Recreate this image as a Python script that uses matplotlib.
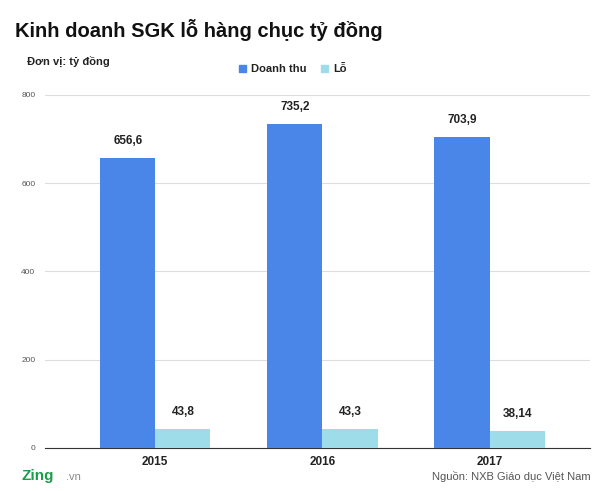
import matplotlib
matplotlib.use("Agg")
import matplotlib.pyplot as plt
import numpy as np

years = ["2015", "2016", "2017"]
revenue = [656.6, 735.2, 703.9]
loss = [43.8, 43.3, 38.14]
rev_labels = ["656,6", "735,2", "703,9"]
loss_labels = ["43,8", "43,3", "38,14"]
yticks = [0, 200, 400, 600, 800]

plt.rcParams["font.family"] = "Liberation Sans"
fig = plt.figure(figsize=(6, 4.91), dpi=100)
ax = fig.add_axes([0.075, 0.0876, 0.908, 0.719])
x = np.arange(len(years))
w = 0.33
blue = "#4a86e8"
light = "#9fdcea"
ax.bar(x - w/2, revenue, w, color=blue, zorder=3)
ax.bar(x + w/2, loss, w, color=light, zorder=3)
for i in range(len(years)):
    ax.text(x[i] - w/2, revenue[i] + 25, rev_labels[i], ha="center", va="bottom", fontsize=8.5, fontweight="bold", color="#222")
    ax.text(x[i] + w/2, loss[i] + 25, loss_labels[i], ha="center", va="bottom", fontsize=8.5, fontweight="bold", color="#222")
ax.set_xlim(-0.66, 2.6)
ax.set_ylim(0, 800)
ax.set_yticks(yticks)
ax.set_yticklabels([str(t) for t in yticks], fontsize=6, color="#555")
ax.set_xticks(x)
ax.set_xticklabels(years, fontsize=8.5, fontweight="bold", color="#222")
ax.tick_params(length=0, pad=6)
ax.tick_params(axis="y", pad=7)
ax.grid(axis="y", color="#dddddd", lw=0.8, zorder=0)
for s in ["top", "right", "left"]:
    ax.spines[s].set_visible(False)
ax.spines["bottom"].set_color("#333")

fig.text(0.025, 0.925, "Kinh doanh SGK lỗ hàng chục tỷ đồng", fontsize=14.5, fontweight="bold", color="#111")
fig.text(0.045, 0.868, "Đơn vị: tỷ đồng", fontsize=8, fontweight="bold", color="#222")
fig.patches.append(plt.Rectangle((0.398, 0.853), 0.012, 0.015, color=blue, transform=fig.transFigure))
fig.text(0.418, 0.853, "Doanh thu", fontsize=8, fontweight="bold", color="#222")
fig.patches.append(plt.Rectangle((0.535, 0.853), 0.012, 0.015, color=light, transform=fig.transFigure))
fig.text(0.555, 0.853, "Lỗ", fontsize=8, fontweight="bold", color="#222")
fig.text(0.035, 0.022, "Zing", fontsize=11, fontweight="bold", color="#1a9e4a")
fig.text(0.11, 0.022, ".vn", fontsize=8, color="#888")
fig.text(0.985, 0.022, "Nguồn: NXB Giáo dục Việt Nam", fontsize=8, color="#555", ha="right")
fig.savefig("out.png", dpi=100)
